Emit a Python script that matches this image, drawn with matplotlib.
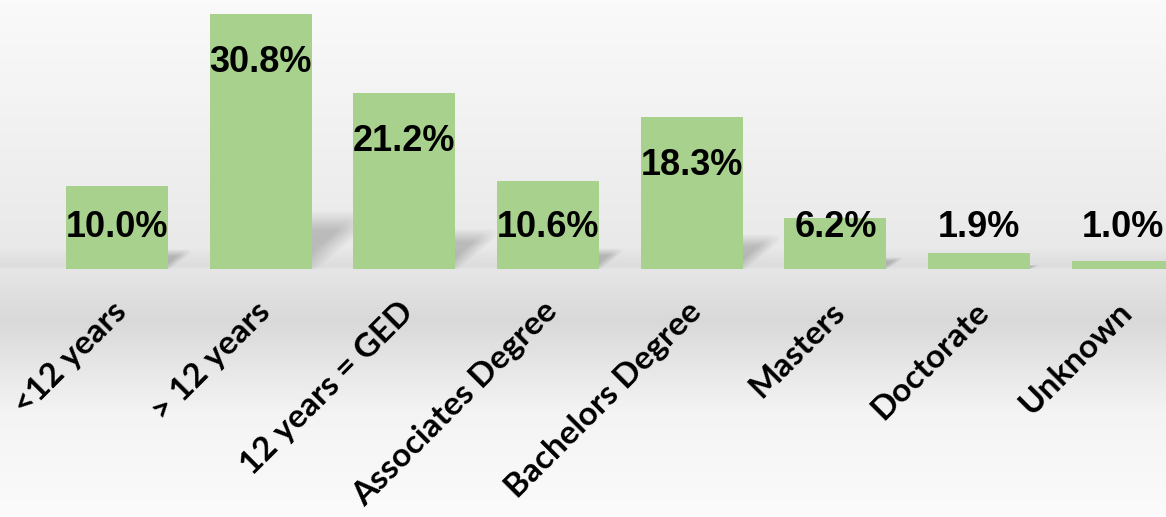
import matplotlib.pyplot as plt
import numpy as np
from matplotlib.colors import LinearSegmentedColormap

categories = ["<12 years", "> 12 years", "12 years = GED", "Associates Degree",
              "Bachelors Degree", "Masters", "Doctorate", "Unknown"]
values = [10.0, 30.8, 21.2, 10.6, 18.3, 6.2, 1.9, 1.0]
labels = [f"{v:.1f}%" for v in values]

bar_color = "#a9d18e"
bar_width = 0.71

fig = plt.figure(figsize=(11.66, 5.17), dpi=100)
ax = fig.add_axes([0, 0, 1, 1])

xlim = (-0.814, 7.30)
ylim = (-29.95, 32.49)

# --- background: wall gradient + floor gradient ---
stops = [(0.0, "#fafafa"), (0.48, "#e9e9e9"), (0.515, "#dcdcdc"), (0.52, "#e6e6e6"),
         (0.62, "#d9d9d9"), (0.80, "#f4f4f4"), (1.0, "#fbfbfb")]
cmap = LinearSegmentedColormap.from_list("bg", stops)
grad = np.linspace(0, 1, 517).reshape(-1, 1)
ax.imshow(grad, cmap=cmap, aspect="auto", extent=[xlim[0], xlim[1], ylim[0], ylim[1]],
          origin="upper", zorder=0, vmin=0, vmax=1)

x = np.arange(len(categories))

# soft cast shadows to the right of each bar
for xi, v in zip(x, values):
    r = xi + bar_width / 2
    sh = 0.23 * v
    sw = 0.012 * v + 0.03
    u, t = np.meshgrid(np.linspace(0, 1, 60), np.linspace(1, 0, 60))
    top = np.clip((1 - t) / 0.35, 0, 1)
    diag = np.clip((t - 0.85 * u + 0.1) / 0.4, 0, 1)
    alpha = 0.2 * top * diag
    rgba = np.zeros((60, 60, 4))
    rgba[..., 3] = alpha
    ax.imshow(rgba, extent=[r, r + sw, 0, sh], aspect="auto", zorder=1,
              interpolation="bilinear")

ax.bar(x, values, width=bar_width, color=bar_color, zorder=2)

for xi, v, lab in zip(x, values, labels):
    ax.text(xi, max(v - 5.8, 5.0), lab, ha="center", va="center", fontsize=26,
            fontweight="bold", family="Liberation Sans", color="black", zorder=3)

for xi, cat in zip(x, categories):
    ax.text(xi - 0.04, -3.3, cat, rotation=45, rotation_mode="anchor", ha="right", va="top",
            fontsize=24, fontweight="bold", family="Lato", color="black", zorder=3)

ax.set_xlim(*xlim)
ax.set_ylim(*ylim)
ax.axis("off")

plt.savefig("out.png", dpi=100)
